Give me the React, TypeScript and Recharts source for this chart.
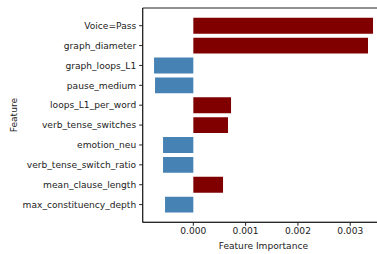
import React from "react";
import { BarChart, Bar, XAxis, YAxis, Cell, ReferenceArea } from "recharts";

const features = [
  "Voice=Pass",
  "graph_diameter",
  "graph_loops_L1",
  "pause_medium",
  "loops_L1_per_word",
  "verb_tense_switches",
  "emotion_neu",
  "verb_tense_switch_ratio",
  "mean_clause_length",
  "max_constituency_depth",
];

const importance = [
  0.003436, 0.00334, -0.000751, -0.000732, 0.000721, 0.000663, -0.000579,
  -0.000579, 0.000568, -0.000541,
];

const xTicks = [0, 0.001, 0.002, 0.003];
const xDomain = [-0.000968, 0.003646];
const yDomain = [-0.89, 9.89];
const yTicks = features.map((_, i) => i);

const data = features.map((name, i) => ({ name, pos: i, value: importance[i] }));

const FONT = "DejaVu Sans, sans-serif";
const FS = 9.1;
const INK = "#222";

// axes-level labels drawn relative to the plot viewBox
const xLabel = (props: any) => {
  const { viewBox } = props;
  return (
    <text
      x={viewBox.x + viewBox.width / 2}
      y={245.7}
      textAnchor="middle"
      dominantBaseline="central"
      fontFamily={FONT}
      fontSize={FS}
      fill={INK}
    >
      Feature Importance
    </text>
  );
};

const yLabel = (props: any) => {
  const { viewBox } = props;
  const cy = viewBox.y + viewBox.height / 2;
  return (
    <text
      x={14.5}
      y={cy}
      transform={`rotate(-90, 14.5, ${cy})`}
      textAnchor="middle"
      dominantBaseline="central"
      fontFamily={FONT}
      fontSize={FS}
      fill={INK}
    >
      Feature
    </text>
  );
};

export default function App() {
  return (
    <div style={{ position: "absolute", left: 0, top: 0, width: 377, height: 254, overflow: "hidden", background: "#fff" }}>
      <BarChart
        width={400}
        height={254}
        layout="vertical"
        data={data}
        margin={{ top: 8, right: 16, bottom: 0, left: 0 }}
      >
        <XAxis
          type="number"
          domain={xDomain}
          allowDataOverflow
          ticks={xTicks}
          tickFormatter={(v: number) => v.toFixed(3)}
          tick={{ fontFamily: FONT, fontSize: FS, fill: INK }}
          tickSize={3.5}
          tickMargin={2}
          tickLine={{ stroke: INK }}
          axisLine={{ stroke: INK, strokeWidth: 1 }}
          height={31.7}
          label={xLabel}
        />
        <YAxis
          type="number"
          dataKey="pos"
          domain={yDomain}
          allowDataOverflow
          ticks={yTicks}
          interval={0}
          tickFormatter={(i: number) => features[i]}
          width={142.7}
          tick={{ fontFamily: FONT, fontSize: FS, fill: INK }}
          tickSize={3.5}
          tickMargin={3}
          tickLine={{ stroke: INK }}
          axisLine={{ stroke: INK, strokeWidth: 1 }}
          label={yLabel}
        />
        {/* frame: top and right spines */}
        <ReferenceArea
          x1={xDomain[0]}
          x2={xDomain[1]}
          fill="none"
          stroke={INK}
          strokeWidth={1}
          ifOverflow="visible"
        />
        <Bar dataKey="value" barSize={15.9} isAnimationActive={false}>
          {data.map((d) => (
            <Cell key={d.name} fill={d.value > 0 ? "#800000" : "#4682b4"} />
          ))}
        </Bar>
      </BarChart>
    </div>
  );
}
